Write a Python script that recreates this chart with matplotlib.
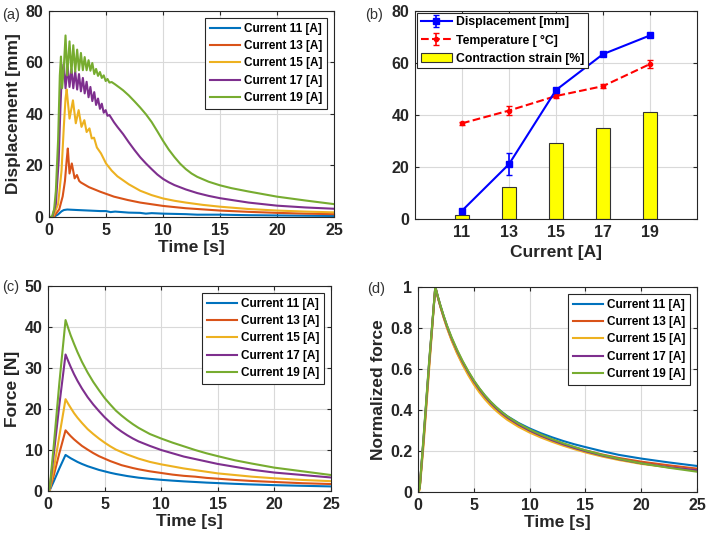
import numpy as np
import matplotlib
matplotlib.use("Agg")
import matplotlib.pyplot as plt
from matplotlib.ticker import FormatStrFormatter

plt.rcParams['font.family'] = ['Liberation Sans', 'DejaVu Sans']
plt.rcParams['font.weight'] = 'bold'

# MATLAB default line colours
colors = ['#0072BD', '#D95319', '#EDB120', '#7E2F8E', '#77AC30']
labels = ['Current 11 [A]', 'Current 13 [A]', 'Current 15 [A]', 'Current 17 [A]', 'Current 19 [A]']
text_col = '#262626'

# ---------------- (a) displacement vs time ----------------
t_d11 = [0, 0.4, 0.8, 1.1, 1.3, 1.6, 2.5, 3.5, 4.5, 5, 5.4, 5.8, 7, 8, 8.5, 9, 10, 12, 13, 15, 17.5, 20, 22.5, 25]
d11 = [0, 0, 1, 2.2, 2.7, 2.9, 2.7, 2.5, 2.3, 2.3, 1.9, 2.1, 1.7, 1.6, 1.3, 1.5, 1.3, 1.1, 0.9, 0.9, 0.7, 0.6, 0.5, 0.4]

t_d13 = [0, 0.4, 0.9, 1.2, 1.4, 1.55, 1.65, 1.8, 2.0, 2.25, 2.45, 2.65, 2.8, 3.5, 4.5, 5.7, 6.9, 8, 10, 12, 15, 17.5, 20, 22.5, 25]
d13 = [0, 0, 3, 8, 14, 22, 26.6, 16.9, 20.8, 15, 16.3, 14, 13.4, 11.6, 9.8, 7.9, 6.6, 5.6, 4.3, 3.4, 2.5, 2.0, 1.6, 1.3, 1.1]

t_d15 = [0, 0.35, 0.8, 1.1, 1.3, 1.45, 1.55, 1.8, 2.1, 2.35, 2.6, 2.85, 3.1, 3.3, 3.55, 3.75, 3.95, 4.2, 4.56,
         5, 5.5, 6, 7, 8, 9, 10, 11, 12, 13.5, 15, 17.5, 20, 22.5, 25]
d15 = [0, 0, 5, 18, 35, 46, 49.5, 38.2, 45.3, 36.4, 41.5, 35, 37.6, 33, 34.4, 30.5, 30.8, 27, 24.7,
       20.8, 18, 15.8, 12.7, 10.2, 8.5, 7.2, 6.3, 5.6, 4.7, 4.0, 3.1, 2.5, 2.1, 1.8]

t_d17 = [0, 0.3, 0.6, 0.85, 1.0, 1.1, 1.2, 1.3, 1.45, 1.64, 1.8, 1.97, 2.13, 2.3, 2.47, 2.63, 2.8, 2.97, 3.13,
         3.3, 3.47, 3.63, 3.8, 3.97, 4.13, 4.3, 4.47, 4.63, 4.8, 4.97, 5.13, 5.3, 5.5, 5.7, 6, 6.5, 7, 7.5,
         8, 8.5, 9, 9.5, 10, 10.5, 11, 12, 13, 14, 15, 17.5, 20, 22.5, 25]
d17 = [0, 0, 5, 22, 42, 53, 57, 59.5, 50, 58.3, 50.5, 57.5, 50, 56.5, 49.5, 55.5, 48.8, 54, 48,
       52.5, 46.5, 50.5, 45, 48.5, 43.5, 46, 42, 44, 40.5, 41.5, 39.3, 39.6, 38.2, 36.8, 35, 32.2, 29, 26,
       23.2, 20.8, 18.6, 16.5, 14.8, 13.5, 12.4, 10.7, 9.3, 8.2, 7.3, 5.6, 4.4, 3.7, 3.2]

t_d19 = [0, 0.25, 0.45, 0.6, 0.8, 0.95, 1.05, 1.15, 1.3, 1.45, 1.6, 1.8, 1.97, 2.13, 2.3, 2.47, 2.63, 2.8,
         2.97, 3.13, 3.3, 3.47, 3.63, 3.8, 3.97, 4.13, 4.3, 4.47, 4.63, 4.8, 4.97, 5.13, 5.3, 5.5, 5.8,
         6.2, 6.5, 7, 7.5, 8, 8.5, 9, 9.5, 10, 10.5, 11, 11.5, 12, 12.5, 13, 14, 15, 16, 17.5, 20, 22.5, 25]
d19 = [0, 0, 3, 10, 30, 55, 62.3, 50, 58, 70.5, 55, 68.2, 56, 66.7, 56.5, 65, 57, 63.7,
       57, 62.1, 57, 60.9, 56.8, 59.8, 55.5, 57.5, 54.8, 56.3, 54, 55, 52.8, 53.6, 52.2, 52.4, 51.5,
       50.2, 49.2, 47.2, 44.9, 42.5, 39.9, 36.9, 33.3, 29.6, 26.2, 23.3, 20.7, 18.6, 16.9, 15.6, 13.7,
       12.3, 11.2, 9.9, 7.9, 6.4, 5.0]

# ---------------- (b) summary vs current ----------------
currents = ['11', '13', '15', '17', '19']
disp_mean = [3.2, 21.1, 49.6, 63.4, 70.6]
disp_err = [0.8, 4.3, 0.8, 0.6, 0.7]
temp_mean = [36.8, 41.7, 47.3, 51.1, 59.6]
temp_err = [0.5, 1.8, 0.6, 0.8, 1.5]
strain = [1.7, 12.4, 29.1, 35.1, 41.0]

# ---------------- (c) force and (d) normalized force ----------------
t_f = [0, 0.15, 0.5, 1.0, 1.55, 1.8, 2.0, 2.3, 2.6, 3.0, 3.5, 4.0, 4.5, 5, 5.5, 6, 6.5, 7, 7.5, 8,
       9, 10, 11, 12, 13, 14, 15, 16.5, 18, 20, 22.5, 25]
f11 = [0, 0.18, 2.3, 5.5, 8.8, 8.35, 8.0, 7.55, 7.1, 6.6, 6.05, 5.6, 5.15, 4.8, 4.45, 4.15, 3.9, 3.65, 3.45, 3.25,
       2.97, 2.73, 2.53, 2.35, 2.2, 2.05, 1.93, 1.75, 1.6, 1.43, 1.27, 1.12]
f13 = [0, 0.3, 3.7, 9.2, 14.8, 14.0, 13.4, 12.6, 11.9, 11.0, 10.1, 9.25, 8.5, 7.9, 7.3, 6.8, 6.3, 5.95, 5.6, 5.3,
       4.8, 4.4, 4.0, 3.7, 3.5, 3.2, 3.0, 2.7, 2.45, 2.2, 1.9, 1.7]
f15 = [0, 0.22, 5.2, 13.4, 22.4, 21.2, 20.3, 19.0, 17.9, 16.6, 15.1, 13.9, 12.8, 11.8, 10.9, 10.1, 9.5, 8.9, 8.4, 7.9,
       7.1, 6.5, 6.0, 5.5, 5.1, 4.7, 4.3, 3.9, 3.5, 3.1, 2.7, 2.4]
f17 = [0, 0.67, 8.7, 21.0, 33.3, 31.6, 30.3, 28.5, 26.9, 25.0, 22.9, 21.1, 19.5, 18.0, 16.7, 15.5, 14.5, 13.6, 12.8, 12.1,
       11.0, 10.0, 9.2, 8.4, 7.8, 7.2, 6.6, 5.9, 5.2, 4.5, 3.9, 3.3]
f19 = [0, 0.83, 10.8, 26.3, 41.7, 39.6, 38.0, 35.9, 33.9, 31.5, 28.9, 26.6, 24.6, 22.7, 21.1, 19.6, 18.4, 17.3, 16.3, 15.4,
       13.9, 12.8, 11.8, 10.9, 10.0, 9.2, 8.5, 7.5, 6.7, 5.7, 4.8, 3.9]

n11 = [0, 0.02, 0.26, 0.63, 1.0, 0.948, 0.91, 0.857, 0.808, 0.75, 0.688, 0.634, 0.586, 0.542, 0.504, 0.47, 0.44, 0.414, 0.391, 0.37,
       0.337, 0.31, 0.287, 0.267, 0.249, 0.233, 0.219, 0.199, 0.181, 0.163, 0.144, 0.127]
n13 = [0, 0.02, 0.25, 0.62, 1.0, 0.945, 0.905, 0.852, 0.802, 0.744, 0.68, 0.625, 0.576, 0.531, 0.492, 0.458, 0.428, 0.402, 0.379, 0.358,
       0.324, 0.296, 0.272, 0.252, 0.234, 0.218, 0.203, 0.183, 0.166, 0.148, 0.13, 0.114]
n15 = [0, 0.01, 0.23, 0.60, 1.0, 0.945, 0.905, 0.85, 0.8, 0.74, 0.676, 0.62, 0.57, 0.525, 0.486, 0.452, 0.422, 0.396, 0.373, 0.352,
       0.318, 0.29, 0.266, 0.245, 0.226, 0.209, 0.193, 0.173, 0.156, 0.137, 0.12, 0.106]
n17 = [0, 0.02, 0.26, 0.63, 1.0, 0.948, 0.909, 0.856, 0.808, 0.751, 0.689, 0.634, 0.585, 0.54, 0.501, 0.466, 0.436, 0.409, 0.385, 0.364,
       0.329, 0.3, 0.275, 0.253, 0.233, 0.215, 0.199, 0.178, 0.16, 0.14, 0.121, 0.106]
n19 = [0, 0.02, 0.27, 0.64, 1.0, 0.95, 0.912, 0.86, 0.812, 0.756, 0.694, 0.639, 0.59, 0.545, 0.506, 0.471, 0.441, 0.414, 0.39, 0.369,
       0.334, 0.305, 0.28, 0.258, 0.238, 0.22, 0.203, 0.181, 0.162, 0.14, 0.118, 0.099]

tick_fs = 11.5
label_fs = 12.5
leg_fs = 8.5


def matlab_style(ax):
    ax.grid(True, color='#d9d9d9', linewidth=0.8)
    ax.set_axisbelow(True)
    for sp in ax.spines.values():
        sp.set_color(text_col)
        sp.set_linewidth(0.8)
    ax.tick_params(direction='in', top=True, right=True, length=3, width=0.8,
                   colors=text_col, labelsize=tick_fs, pad=4)
    for lab in ax.get_xticklabels() + ax.get_yticklabels():
        lab.set_fontweight('bold')


def time_legend(ax):
    leg = ax.legend(loc='upper right', fontsize=leg_fs, handlelength=2.6, labelspacing=0.45,
                    borderpad=0.4, handletextpad=0.3, fancybox=False, framealpha=1,
                    borderaxespad=0.6)
    leg.get_frame().set_edgecolor(text_col)
    leg.get_frame().set_linewidth(0.8)
    for txt in leg.get_texts():
        txt.set_fontweight('bold')


fig = plt.figure(figsize=(7.08, 5.41), dpi=100)

# (a)
ax1 = fig.add_axes([0.0692, 0.5989, 0.4026, 0.3808])
for tt, yy, c, lab in zip([t_d11, t_d13, t_d15, t_d17, t_d19], [d11, d13, d15, d17, d19], colors, labels):
    ax1.plot(tt, yy, color=c, linewidth=1.5, label=lab)
ax1.set_xlim(0, 25)
ax1.set_ylim(0, 80)
ax1.set_xticks([0, 5, 10, 15, 20, 25])
ax1.set_yticks([0, 20, 40, 60, 80])
ax1.set_xlabel('Time [s]', fontsize=label_fs, fontweight='bold', labelpad=2, color=text_col)
ax1.set_ylabel('Displacement [mm]', fontsize=label_fs, fontweight='bold', labelpad=3, color=text_col)
matlab_style(ax1)
time_legend(ax1)

# (b)
ax2 = fig.add_axes([0.5862, 0.5952, 0.3983, 0.3845])
pos = np.arange(1, len(currents) + 1)
ax2.bar(pos, strain, width=0.3, color='#ffff00', edgecolor='#333333', linewidth=0.8,
        label='Contraction strain [%]', zorder=2)
ax2.errorbar(pos, disp_mean, yerr=disp_err, color='#0000ff', linestyle='-', linewidth=1.5,
             marker='s', markersize=4.5, capsize=2.5, elinewidth=1.2, label='Displacement [mm]', zorder=4)
ax2.errorbar(pos, temp_mean, yerr=temp_err, color='#ff0000', linestyle='--', linewidth=1.5,
             marker='.', markersize=6, capsize=2.5, elinewidth=1.2, label='Temperature [ \u00b0C]', zorder=3)
ax2.set_xlim(0, 6)
ax2.set_ylim(0, 80)
ax2.set_xticks(pos)
ax2.set_xticklabels(currents)
ax2.set_yticks([0, 20, 40, 60, 80])
ax2.set_xlabel('Current [A]', fontsize=label_fs, fontweight='bold', labelpad=4, color=text_col)
matlab_style(ax2)
h, l = ax2.get_legend_handles_labels()
order = [1, 2, 0]
leg2 = ax2.legend([h[i] for i in order], [l[i] for i in order], loc='upper left', fontsize=8.8,
                  handlelength=2.6, labelspacing=0.5, borderpad=0.3, handletextpad=0.3,
                  fancybox=False, framealpha=1, borderaxespad=0.15)
leg2.get_frame().set_edgecolor(text_col)
leg2.get_frame().set_linewidth(0.8)
for txt in leg2.get_texts():
    txt.set_fontweight('bold')

# (c)
ax3 = fig.add_axes([0.0678, 0.0924, 0.3997, 0.3789])
for yy, c, lab in zip([f11, f13, f15, f17, f19], colors, labels):
    ax3.plot(t_f, yy, color=c, linewidth=1.5, label=lab)
ax3.set_xlim(0, 25)
ax3.set_ylim(0, 50)
ax3.set_xticks([0, 5, 10, 15, 20, 25])
ax3.set_yticks([0, 10, 20, 30, 40, 50])
ax3.set_xlabel('Time [s]', fontsize=label_fs, fontweight='bold', labelpad=2, color=text_col)
ax3.set_ylabel('Force [N]', fontsize=label_fs, fontweight='bold', labelpad=3, color=text_col)
matlab_style(ax3)
time_legend(ax3)

# (d)
ax4 = fig.add_axes([0.5904, 0.0906, 0.3941, 0.3789])
for yy, c, lab in zip([n11, n13, n15, n17, n19], colors, labels):
    ax4.plot(t_f, yy, color=c, linewidth=1.5, label=lab)
ax4.set_xlim(0, 25)
ax4.set_ylim(0, 1)
ax4.set_xticks([0, 5, 10, 15, 20, 25])
ax4.set_yticks([0, 0.2, 0.4, 0.6, 0.8, 1])
ax4.yaxis.set_major_formatter(FormatStrFormatter('%g'))
ax4.set_xlabel('Time [s]', fontsize=label_fs, fontweight='bold', labelpad=2, color=text_col)
ax4.set_ylabel('Normalized force', fontsize=label_fs, fontweight='bold', labelpad=3, color=text_col)
matlab_style(ax4)
time_legend(ax4)

# panel letters
for x, y, s in [(0.003, 0.965, '(a)'), (0.516, 0.965, '(b)'), (0.003, 0.462, '(c)'), (0.518, 0.458, '(d)')]:
    fig.text(x, y, s, fontsize=10.5, fontweight='normal', color='#333333')

fig.savefig('out.png', dpi=100)
